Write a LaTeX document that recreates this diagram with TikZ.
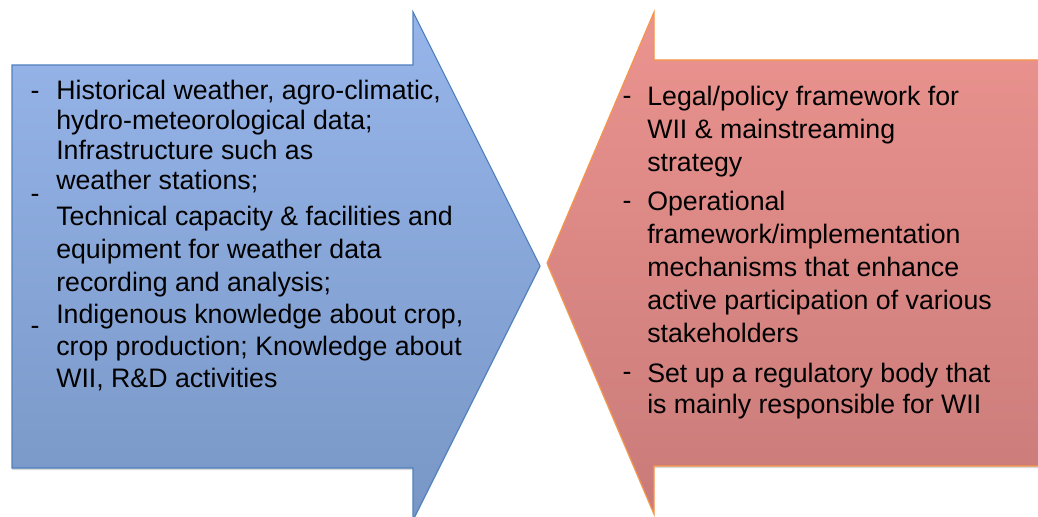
\documentclass[tikz,border=0pt]{standalone}
\usepackage{fontspec}
\setmainfont{Liberation Sans}
\usetikzlibrary{shadows}

\definecolor{blueline}{HTML}{4F81BD}
\definecolor{bluetop}{HTML}{97B5EA}
\definecolor{bluebot}{HTML}{7897C6}
\definecolor{redline}{HTML}{F79646}
\definecolor{redtop}{HTML}{EB938F}
\definecolor{redbot}{HTML}{C97B79}

\tikzset{
  inputarrow/.style={draw=blueline, line width=0.8pt, top color=bluetop, bottom color=bluebot,
    drop shadow={shadow xshift=0pt, shadow yshift=-1.5pt, opacity=0.3}},
  policyarrow/.style={draw=redline, line width=0.8pt, top color=redtop, bottom color=redbot,
    drop shadow={shadow xshift=0pt, shadow yshift=-1.5pt, opacity=0.3}},
  % anchored at the baseline of the last line
  itemtext/.style={anchor=base west, align=left, inner sep=0pt, font=\fontsize{19}{#1}\selectfont},
  itemtext/.default=23,
  dashmark/.style={anchor=base, inner sep=0pt, font=\fontsize{19}{23}\selectfont}
}

\begin{document}
\begin{tikzpicture}[x=0.025cm, y=-0.025cm]
	\useasboundingbox (0,0) rectangle (1038,517);

	% the two arrows
	\draw[inputarrow] (12,65) -- (413,65) -- (413,12) -- (540,266) -- (413,520) -- (413,468) -- (12,468) -- cycle;
	\draw[policyarrow] (1045,60) -- (654,60) -- (654,12) -- (547,263) -- (654,514) -- (654,466) -- (1045,466) -- cycle;

	% left list
	\node[dashmark] (bd1) at (35,100) {-};
	\node[dashmark] (bd2) at (35,203) {-};
	\node[dashmark] (bd3) at (35,335) {-};
	\node[itemtext=21.5] (data) at (56,190) {Historical weather, agro-climatic,\\hydro-meteorological data;\\Infrastructure such as\\weather stations;};
	\node[itemtext=23.8] (capacity) at (56,292) {Technical capacity \& facilities and\\equipment for weather data\\recording and analysis;};
	\node[itemtext=23] (knowledge) at (56,388) {Indigenous knowledge about crop,\\crop production; Knowledge about\\WII, R\&D activities};

	% right list
	\node[dashmark] (rd1) at (627,105) {-};
	\node[dashmark] (rd2) at (627,210) {-};
	\node[dashmark] (rd3) at (627,380) {-};
	\node[itemtext=23.8] (legal) at (647,172) {Legal/policy framework for\\WII \& mainstreaming\\strategy};
	\node[itemtext=23.6] (operational) at (647,343) {Operational\\framework/implementation\\mechanisms that enhance\\active participation of various\\stakeholders};
	\node[itemtext=22] (regulator) at (647,413) {Set up a regulatory body that\\is mainly responsible for WII};

\end{tikzpicture}
\end{document}
